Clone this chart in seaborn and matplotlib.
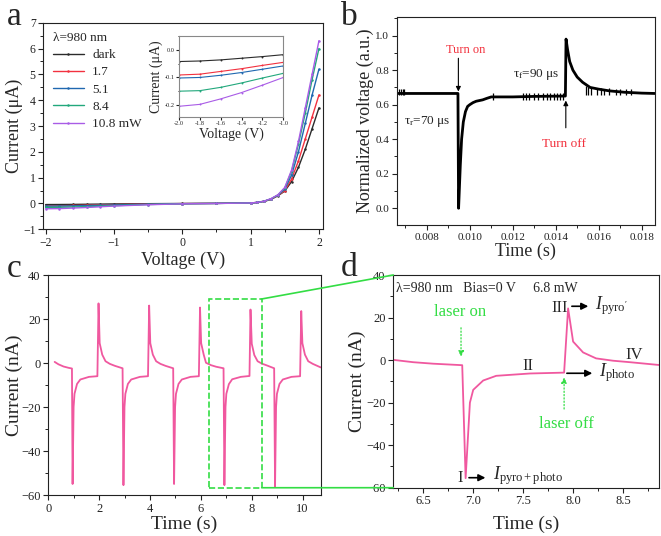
import matplotlib
matplotlib.use("Agg")
import matplotlib.pyplot as plt
import seaborn as sns
from matplotlib.patches import Rectangle, ConnectionPatch
from matplotlib.ticker import MultipleLocator, FormatStrFormatter

# ---- panel a: I-V curves (uA) ----
voltage = [-2.0, -1.8, -1.6, -1.4, -1.2, -1.0, -0.5, 0.0, 0.5, 1.0, 1.1, 1.2, 1.3, 1.4, 1.5, 1.6, 1.7, 1.8, 1.9, 2.0]
iv_dark = [-0.042, -0.040, -0.036, -0.030, -0.024, -0.017, -0.008, 0.000, 0.005, 0.02, 0.04, 0.08, 0.16, 0.30, 0.48, 0.85, 1.40, 2.10, 2.90, 3.70]
iv_17 = [-0.091, -0.088, -0.078, -0.068, -0.056, -0.045, -0.022, -0.005, 0.003, 0.02, 0.04, 0.09, 0.17, 0.31, 0.50, 0.95, 1.65, 2.50, 3.35, 4.20]
iv_51 = [-0.102, -0.100, -0.092, -0.082, -0.070, -0.058, -0.028, -0.007, 0.002, 0.02, 0.04, 0.09, 0.18, 0.32, 0.55, 1.10, 2.00, 3.10, 4.20, 5.20]
iv_84 = [-0.150, -0.148, -0.136, -0.120, -0.102, -0.085, -0.040, -0.010, 0.001, 0.02, 0.04, 0.09, 0.18, 0.33, 0.60, 1.25, 2.30, 3.50, 4.80, 6.00]
iv_108 = [-0.205, -0.198, -0.178, -0.155, -0.128, -0.100, -0.050, -0.012, 0.000, 0.02, 0.04, 0.09, 0.19, 0.34, 0.62, 1.30, 2.40, 3.70, 5.00, 6.30]
iv_labels = ["dark", "1.7", "5.1", "8.4", "10.8 mW"]
iv_colors = ["#2b2b2b", "#f2313f", "#2068b0", "#22a87c", "#a95ce6"]

# ---- panel b: normalized response ----
b_time = [0.0066, 0.00945, 0.00948, 0.00956, 0.00962, 0.00970, 0.00980, 0.00990, 0.01000, 0.01015,
          0.01030, 0.01060, 0.01080, 0.01100, 0.01200, 0.01300, 0.01445, 0.01448, 0.01455, 0.01465,
          0.01480, 0.01500, 0.01525, 0.01560, 0.01600, 0.01650, 0.01720, 0.01800, 0.01862]
b_volt = [0.665, 0.665, 0.000, 0.250, 0.400, 0.500, 0.560, 0.590, 0.600, 0.612,
          0.620, 0.628, 0.637, 0.645, 0.645, 0.648, 0.650, 0.980, 0.920, 0.850,
          0.800, 0.760, 0.730, 0.700, 0.690, 0.680, 0.672, 0.667, 0.665]
noise_t = [0.00672, 0.00680, 0.00688, 0.00695, 0.01110, 0.01250, 0.01262, 0.01275, 0.01300, 0.01318,
           0.01340, 0.01360, 0.01372, 0.01390, 0.01405, 0.01420, 0.01432, 0.01540, 0.01552, 0.01565,
           0.01590, 0.01610, 0.01625, 0.01650, 0.01680, 0.01700, 0.01725, 0.01750]
noise_lo = [0.655, 0.655, 0.655, 0.655, 0.625, 0.625, 0.625, 0.625, 0.625, 0.625,
            0.625, 0.625, 0.625, 0.625, 0.625, 0.625, 0.625, 0.655, 0.655, 0.655,
            0.655, 0.655, 0.655, 0.655, 0.655, 0.655, 0.655, 0.655]
noise_hi = [0.690, 0.690, 0.690, 0.690, 0.665, 0.670, 0.670, 0.665, 0.670, 0.670,
            0.665, 0.670, 0.670, 0.670, 0.665, 0.670, 0.670, 0.710, 0.700, 0.700,
            0.695, 0.695, 0.690, 0.695, 0.690, 0.690, 0.690, 0.690]

# ---- panel c/d: periodic current (nA) ----
c_time = [0.25, 0.40, 0.60, 0.80, 0.93,
          0.955, 0.995, 1.03, 1.13, 1.26, 1.60, 1.93, 1.975, 2.02, 2.12, 2.25, 2.42, 2.62, 2.92,
          2.955, 2.995, 3.03, 3.13, 3.26, 3.60, 3.92, 3.965, 4.01, 4.11, 4.24, 4.41, 4.61, 4.91,
          4.945, 4.985, 5.02, 5.12, 5.25, 5.59, 5.92, 5.965, 6.01, 6.11, 6.20, 6.40, 6.60, 6.89,
          6.924, 6.967, 7.00, 7.10, 7.23, 7.57, 7.91, 7.95, 8.00, 8.10, 8.23, 8.40, 8.57, 8.88,
          8.915, 8.955, 8.99, 9.09, 9.22, 9.56, 9.90, 9.945, 9.99, 10.09, 10.22, 10.40, 10.71]
c_curr = [0.5, -0.6, -1.6, -2.2, -2.5,
          -55.0, -20.0, -14.0, -9.5, -7.5, -6.3, -6.0, 27.1, 9.0, 3.8, 0.8, -0.4, -1.3, -2.4,
          -55.5, -20.0, -14.0, -9.5, -7.5, -6.3, -6.0, 26.1, 9.0, 3.8, 0.8, -0.4, -1.3, -2.4,
          -55.0, -20.0, -14.0, -9.5, -7.5, -6.3, -6.0, 25.2, 9.0, 3.8, 0.1, -1.0, -1.7, -2.4,
          -55.5, -20.0, -14.0, -9.6, -7.4, -6.3, -5.9, 24.3, 8.7, 3.6, 0.8, -0.3, -1.0, -2.4,
          -56.2, -20.0, -14.0, -9.5, -7.5, -6.3, -6.0, 23.6, 9.0, 3.8, 0.8, -0.4, -2.0]

pink = "#f0589f"
green = "#33dd44"

sns.set_theme(style="ticks")
plt.rcParams["font.family"] = ["Liberation Serif", "DejaVu Serif"]
plt.rcParams["mathtext.fontset"] = "custom"
plt.rcParams["mathtext.rm"] = "Liberation Serif"
plt.rcParams["mathtext.it"] = "Liberation Serif:italic"
plt.rcParams["axes.linewidth"] = 0.8
plt.rcParams["axes.edgecolor"] = "#222222"
for k in ["xtick", "ytick"]:
    plt.rcParams[k + ".direction"] = "out"
    plt.rcParams[k + ".major.size"] = 3.5
    plt.rcParams[k + ".minor.size"] = 2
    plt.rcParams[k + ".major.width"] = 0.8
    plt.rcParams[k + ".minor.width"] = 0.7
    plt.rcParams[k + ".color"] = "#222222"
    plt.rcParams[k + ".major.pad"] = 2

fig = plt.figure(figsize=(6.61, 5.36), dpi=100)
W, H = 661.0, 536.0

def place(l, t, r, b):
    return fig.add_axes([l / W, 1 - b / H, (r - l) / W, (b - t) / H])

ax_a = place(43.3, 22.7, 322.7, 229.3)
ax_b = place(396.7, 17, 655, 225)
ax_c = place(48.3, 275, 320.7, 495)
ax_d = place(393.3, 275, 659, 487.7)
ax_in = place(179, 36, 283.3, 117)

# ---- a ----
for ys, lab, col in zip([iv_dark, iv_17, iv_51, iv_84, iv_108], iv_labels, iv_colors):
    sns.lineplot(x=voltage, y=ys, ax=ax_a, color=col, lw=1.0, marker="o", markersize=1.8,
                 markeredgewidth=0, label=lab, estimator=None, sort=False)
    sns.lineplot(x=voltage[:6], y=ys[:6], ax=ax_in, color=col, lw=0.8, marker="o", markersize=1.4,
                 markeredgewidth=0, estimator=None, sort=False, legend=False)
ax_a.set_xlim(-2.035, 2.055)
ax_a.set_ylim(-1, 7)
ax_a.xaxis.set_major_locator(MultipleLocator(1))
ax_a.xaxis.set_minor_locator(MultipleLocator(0.5))
ax_a.yaxis.set_major_locator(MultipleLocator(1))
ax_a.yaxis.set_minor_locator(MultipleLocator(0.5))
ax_a.tick_params(labelsize=8.5)
ax_a.set_xlabel("Voltage (V)", fontsize=13, labelpad=2)
ax_a.set_ylabel("Current (μA)", fontsize=13, labelpad=0)
ax_a.legend(title="λ=980 nm", loc="upper left", frameon=False, fontsize=9.5, title_fontsize=9.5,
            handlelength=2.4, labelspacing=0.38, borderaxespad=0.3, alignment="left", handletextpad=0.6)

ax_in.set_xlim(-2.0, -1.0)
ax_in.set_ylim(-0.244, 0.051)
ax_in.xaxis.set_major_locator(MultipleLocator(0.2))
ax_in.yaxis.set_major_locator(MultipleLocator(0.1))
ax_in.yaxis.set_minor_locator(MultipleLocator(0.05))
ax_in.xaxis.set_major_formatter(FormatStrFormatter("%.1f"))
ax_in.yaxis.set_major_formatter(FormatStrFormatter("%.1f"))
ax_in.tick_params(labelsize=4.5, length=2, pad=1)
ax_in.tick_params(which="minor", length=1)
ax_in.set_xlabel("Voltage (V)", fontsize=10, labelpad=1)
ax_in.set_ylabel("Current (μA)", fontsize=10, labelpad=1)
for s in ax_in.spines.values():
    s.set_color("#888888")

# ---- b ----
sns.lineplot(x=b_time, y=b_volt, ax=ax_b, color="black", lw=2.0, estimator=None, sort=False)
ax_b.vlines(noise_t, noise_lo, noise_hi, color="black", lw=0.9)
ax_b.set_xlim(0.0066, 0.01862)
ax_b.set_ylim(-0.097, 1.108)
ax_b.xaxis.set_major_locator(MultipleLocator(0.002))
ax_b.xaxis.set_minor_locator(MultipleLocator(0.001))
ax_b.yaxis.set_major_locator(MultipleLocator(0.2))
ax_b.yaxis.set_minor_locator(MultipleLocator(0.1))
ax_b.xaxis.set_major_formatter(FormatStrFormatter("%.3f"))
ax_b.yaxis.set_major_formatter(FormatStrFormatter("%.1f"))
ax_b.tick_params(labelsize=8)
ax_b.set_xlabel("Time (s)", fontsize=13, labelpad=1)
ax_b.set_ylabel("Normalized voltage (a.u.)", fontsize=13, labelpad=1)
arr = dict(arrowstyle="-|>", color="black", lw=0.8, mutation_scale=7)
ax_b.annotate("", xy=(0.00947, 0.66), xytext=(0.00947, 0.885), arrowprops=arr)
ax_b.annotate("", xy=(0.01447, 0.64), xytext=(0.01447, 0.45), arrowprops=arr)
ax_b.text(0.0098, 0.915, "Turn on", color="#f2303c", fontsize=9, ha="center", va="center")
ax_b.text(0.01438, 0.375, "Turn off", color="#f2303c", fontsize=9.5, ha="center", va="center")
ax_b.text(0.00803, 0.50, "τ$_\\mathrm{r}$=70 μs", fontsize=9.5, ha="center", va="center")
ax_b.text(0.0131, 0.775, "τ$_\\mathrm{f}$=90 μs", fontsize=9.5, ha="center", va="center")

# ---- c ----
sns.lineplot(x=c_time, y=c_curr, ax=ax_c, color=pink, lw=1.3, estimator=None, sort=False)
ax_c.set_xlim(0, 10.71)
ax_c.set_ylim(-60, 40)
ax_c.xaxis.set_major_locator(MultipleLocator(2))
ax_c.xaxis.set_minor_locator(MultipleLocator(1))
ax_c.yaxis.set_major_locator(MultipleLocator(20))
ax_c.yaxis.set_minor_locator(MultipleLocator(10))
ax_c.tick_params(labelsize=9)
ax_c.set_xlabel("Time (s)", fontsize=14, labelpad=1)
ax_c.set_ylabel("Current (nA)", fontsize=14, labelpad=-1)
ax_c.add_patch(Rectangle((6.3, -56.7), 2.09, 85.8, fill=False, ls="--", lw=1.2, color=green, zorder=5))

# ---- d ----
sns.lineplot(x=c_time, y=c_curr, ax=ax_d, color=pink, lw=1.3, estimator=None, sort=False)
ax_d.set_xlim(6.2, 8.86)
ax_d.set_ylim(-60, 40)
ax_d.xaxis.set_major_locator(MultipleLocator(0.5))
ax_d.xaxis.set_minor_locator(MultipleLocator(0.25))
ax_d.yaxis.set_major_locator(MultipleLocator(20))
ax_d.yaxis.set_minor_locator(MultipleLocator(10))
ax_d.tick_params(labelsize=9)
ax_d.set_xlabel("Time (s)", fontsize=14, labelpad=6)
ax_d.set_ylabel("Current (nA)", fontsize=14, labelpad=0)
ax_d.text(6.23, 33.5, "λ=980 nm   Bias=0 V     6.8 mW", fontsize=10, va="center", ha="left")
ax_d.text(6.87, 22.5, "laser on", color=green, fontsize=12, ha="center", va="center")
ax_d.text(7.93, -30.2, "laser off", color=green, fontsize=12, ha="center", va="center")
garr = dict(arrowstyle="-|>", color=green, lw=0.9, mutation_scale=8, linestyle=":")
ax_d.annotate("", xy=(6.878, 0.3), xytext=(6.878, 16.5), arrowprops=garr)
ax_d.annotate("", xy=(7.91, -6.8), xytext=(7.91, -24.3), arrowprops=garr)
karr = dict(arrowstyle="-|>", color="black", lw=1.2, mutation_scale=10)
ax_d.annotate("", xy=(7.15, -55.3), xytext=(6.93, -55.3), arrowprops=karr)
ax_d.annotate("", xy=(8.18, 25.3), xytext=(7.96, 25.3), arrowprops=karr)
ax_d.annotate("", xy=(8.22, -6.2), xytext=(7.91, -6.2), arrowprops=karr)
ax_d.text(6.87, -55.5, "I", fontsize=12, ha="center", va="center")
ax_d.text(7.55, -2.8, "II", fontsize=12, ha="center", va="center")
ax_d.text(7.87, 24.3, "III", fontsize=12, ha="center", va="center")
ax_d.text(8.61, 2.6, "IV", fontsize=12, ha="center", va="center")
ax_d.text(7.2, -54.5, "$I_{\\mathrm{pyro+photo}}$", fontsize=13, ha="left", va="center")
ax_d.text(8.22, 25.8, "$I_{\\mathrm{pyro}'}$", fontsize=13, ha="left", va="center")
ax_d.text(8.26, -5.8, "$I_{\\mathrm{photo}}$", fontsize=13, ha="left", va="center")

# zoom connectors
for ya, yb in [(29.1, 1.0), (-56.7, 0.0)]:
    con = ConnectionPatch(xyA=(8.39, ya), coordsA=ax_c.transData, xyB=(0.0, yb), coordsB=ax_d.transAxes,
                          color=green, lw=1.2, zorder=10)
    fig.add_artist(con)

for ax in [ax_a, ax_b, ax_c, ax_d]:
    ax.tick_params(top=False, right=False)

# panel letters (baseline positions in pixels)
for lx, ly, s in [(14, 25, "a"), (349, 25, "b"), (14, 277, "c"), (349, 276, "d")]:
    fig.text(lx / W, 1 - ly / H, s, fontsize=24, ha="center", va="baseline")

fig.savefig("out.png", dpi=100)
